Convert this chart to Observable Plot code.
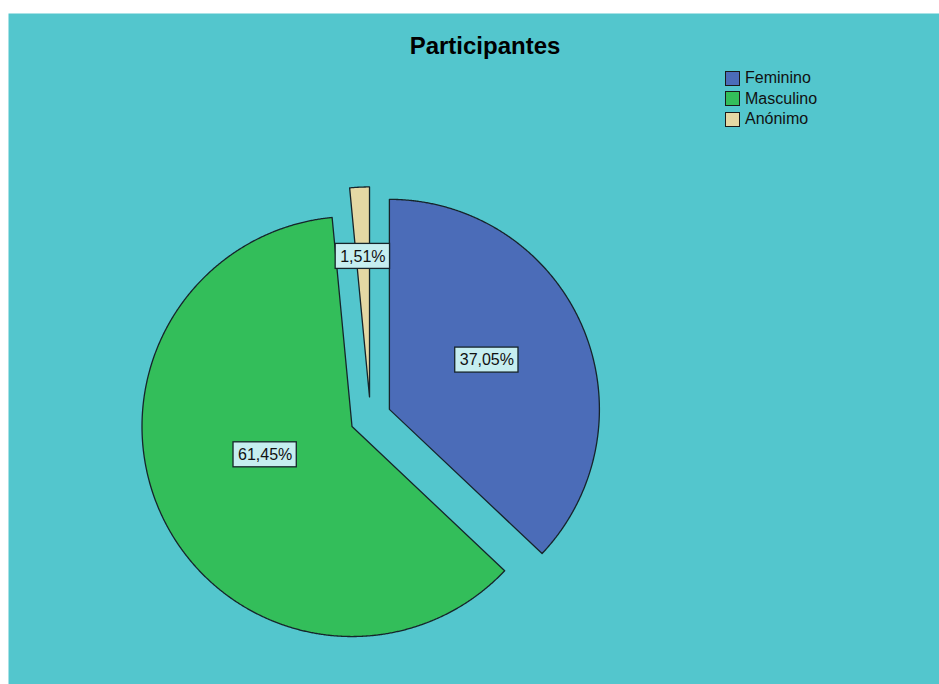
<!DOCTYPE html>
<html><head><meta charset="utf-8">
<script src="https://cdn.jsdelivr.net/npm/d3@7"></script>
<script src="https://cdn.jsdelivr.net/npm/@observablehq/plot@0.6"></script>
<style>
body{margin:0;background:#fff;font-family:"Liberation Sans",Arial,sans-serif}
#wrap{position:relative;width:939px;height:684px}
#legend{position:absolute;left:725px;top:68px;font-size:16px;color:#111;font-family:"Liberation Sans",Arial,sans-serif}
.row{display:flex;align-items:center;height:20.5px}
.sw{width:13px;height:13px;border:1.5px solid #1a1a1a;margin-right:5px}
</style></head><body><div id="wrap"><div id="legend"></div></div>
<script>
// ---- data ----
const title = "Participantes";
const categories = ["Feminino", "Masculino", "Anónimo"];
const values = [37.05, 61.45, 1.51];
const valueLabels = ["37,05%", "61,45%", "1,51%"];
const colors = ["#4B6CB8", "#33BE5A", "#E4D8A4"];

// ---- layout ----
const W = 939, H = 684, mL = 8, mT = 13;
const cx = 370, cy = 417, Rpx = 210;           // pie centre & radius (px)
const explode = 0.098;                          // explode distance (radius units)
const labelRadius = [0.52, 0.435, 0.67];        // label distance from slice vertex
const labelTurn = [-3.5, 8, 0];                 // label angle tweak (degrees)
const teal = "#53C6CD";

const arcs = d3.pie().sort(null).value(d => d)(values);
const slices = [];
const labels = [];
arcs.forEach((a, i) => {
  const mid = (a.startAngle + a.endAngle) / 2;
  const ox = explode * Math.sin(mid), oy = explode * Math.cos(mid);
  slices.push({cat: categories[i], x: ox, y: oy});
  const n = Math.max(4, Math.ceil((a.endAngle - a.startAngle) / 0.005));
  for (let k = 0; k <= n; k++) {
    const t = a.startAngle + (a.endAngle - a.startAngle) * k / n;
    slices.push({cat: categories[i], x: ox + Math.sin(t), y: oy + Math.cos(t)});
  }
  slices.push({cat: categories[i], x: ox, y: oy});
  const f = labelRadius[i];
  const la = mid + labelTurn[i] * Math.PI / 180;
  labels.push({cat: categories[i], text: valueLabels[i], x: ox + f * Math.sin(la), y: oy + f * Math.cos(la)});
});

const ctx = document.createElement("canvas").getContext("2d");
ctx.font = '16px "Liberation Sans", Arial, sans-serif';
labels.forEach(l => {
  const w = (ctx.measureText(l.text).width + 9) / Rpx / 2;
  const h = 25 / Rpx / 2;
  l.x1 = l.x - w; l.x2 = l.x + w; l.y1 = l.y - h; l.y2 = l.y + h;
});

const chart = Plot.plot({
  width: W, height: H,
  marginLeft: mL, marginTop: mT, marginRight: 0, marginBottom: 0,
  style: {background: "#fff", fontFamily: '"Liberation Sans", Arial, sans-serif'},
  x: {domain: [(mL - cx) / Rpx, (W - cx) / Rpx], axis: null},
  y: {domain: [(cy - H) / Rpx, (cy - mT) / Rpx], axis: null},
  color: {domain: categories, range: colors},
  marks: [
    Plot.frame({fill: teal}),
    Plot.line(slices, {x: "x", y: "y", z: "cat", fill: "cat", stroke: "#16242a", strokeWidth: 1.3, curve: "linear"}),
    Plot.rect(labels, {x1: "x1", x2: "x2", y1: "y1", y2: "y2", fill: "#C6EEF0", stroke: "#16242a", strokeWidth: 1.3}),
    Plot.text(labels, {x: "x", y: "y", text: "text", fontSize: 16, fill: "#111"}),
    Plot.text([title], {frameAnchor: "top", dx: 11, dy: 33, lineAnchor: "middle", fontSize: 24, fontWeight: "bold", fill: "#000"})
  ]
});
document.getElementById("wrap").prepend(chart);

const leg = document.getElementById("legend");
categories.forEach((c, i) => {
  const row = document.createElement("div");
  row.className = "row";
  const sw = document.createElement("div");
  sw.className = "sw";
  sw.style.background = colors[i];
  const t = document.createElement("span");
  t.textContent = c;
  row.append(sw, t);
  leg.append(row);
});
</script></body></html>
